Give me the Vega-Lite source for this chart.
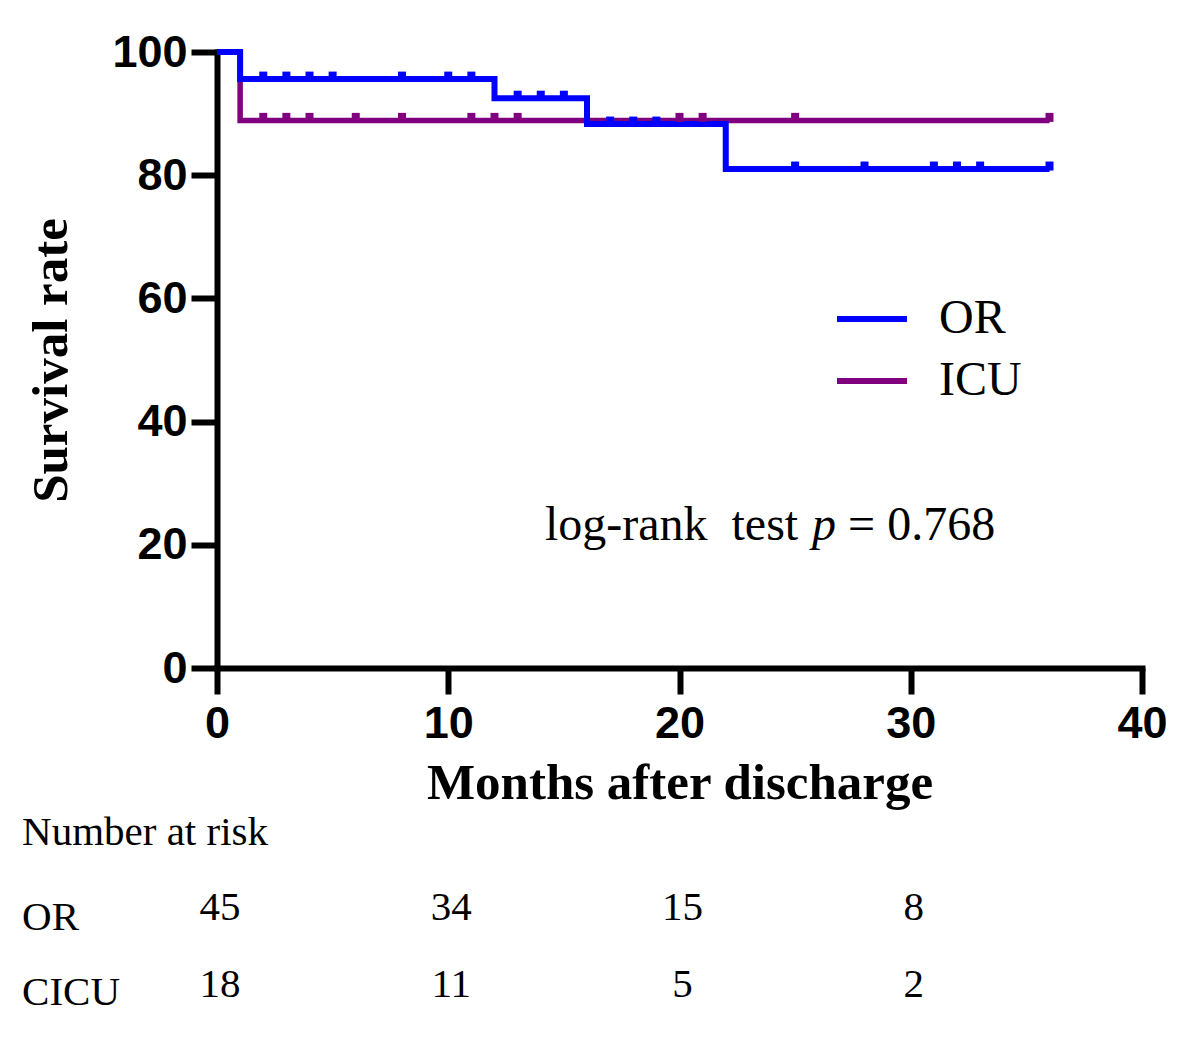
{
  "$schema": "https://vega.github.io/schema/vega-lite/v6.json",
  "width": 925,
  "height": 616,
  "autosize": {"type": "none"},
  "padding": {"left": 217, "top": 52, "right": 58, "bottom": 371},
  "background": "white",
  "config": {
    "view": {"stroke": null},
    "axis": {
      "grid": false,
      "labelFlush": false,
      "domainColor": "black",
      "domainWidth": 6,
      "domainCap": "square",
      "tickColor": "black",
      "tickWidth": 6,
      "tickSize": 26,
      "labelFont": "Liberation Sans",
      "labelFontWeight": "bold",
      "labelFontSize": 45,
      "labelColor": "black",
      "titleFont": "Liberation Serif",
      "titleFontWeight": "bold",
      "titleFontSize": 51,
      "titleColor": "black"
    }
  },
  "datasets": {
    "curve": [
      {"group": "OR", "month": 0, "rate": 100},
      {"group": "OR", "month": 1, "rate": 95.6},
      {"group": "OR", "month": 12, "rate": 92.5},
      {"group": "OR", "month": 16, "rate": 88.3},
      {"group": "OR", "month": 22, "rate": 81.0},
      {"group": "OR", "month": 36, "rate": 81.0},
      {"group": "ICU", "month": 0, "rate": 100},
      {"group": "ICU", "month": 1, "rate": 88.9},
      {"group": "ICU", "month": 36, "rate": 88.9}
    ],
    "censor": [
      {"group": "ICU", "month": 2, "rate": 88.9},
      {"group": "ICU", "month": 3, "rate": 88.9},
      {"group": "ICU", "month": 4, "rate": 88.9},
      {"group": "ICU", "month": 6, "rate": 88.9},
      {"group": "ICU", "month": 8, "rate": 88.9},
      {"group": "ICU", "month": 11, "rate": 88.9},
      {"group": "ICU", "month": 12, "rate": 88.9},
      {"group": "ICU", "month": 13, "rate": 88.9},
      {"group": "ICU", "month": 20, "rate": 88.9},
      {"group": "ICU", "month": 21, "rate": 88.9},
      {"group": "ICU", "month": 25, "rate": 88.9},
      {"group": "ICU", "month": 36, "rate": 88.9},
      {"group": "OR", "month": 2, "rate": 95.6},
      {"group": "OR", "month": 3, "rate": 95.6},
      {"group": "OR", "month": 4, "rate": 95.6},
      {"group": "OR", "month": 5, "rate": 95.6},
      {"group": "OR", "month": 8, "rate": 95.6},
      {"group": "OR", "month": 10, "rate": 95.6},
      {"group": "OR", "month": 11, "rate": 95.6},
      {"group": "OR", "month": 13, "rate": 92.5},
      {"group": "OR", "month": 14, "rate": 92.5},
      {"group": "OR", "month": 15, "rate": 92.5},
      {"group": "OR", "month": 17, "rate": 88.3},
      {"group": "OR", "month": 18, "rate": 88.3},
      {"group": "OR", "month": 19, "rate": 88.3},
      {"group": "OR", "month": 25, "rate": 81.0},
      {"group": "OR", "month": 28, "rate": 81.0},
      {"group": "OR", "month": 31, "rate": 81.0},
      {"group": "OR", "month": 32, "rate": 81.0},
      {"group": "OR", "month": 33, "rate": 81.0},
      {"group": "OR", "month": 36, "rate": 81.0}
    ],
    "risk": [
      {"group": "OR", "month": 0, "n": 45},
      {"group": "OR", "month": 10, "n": 34},
      {"group": "OR", "month": 20, "n": 15},
      {"group": "OR", "month": 30, "n": 8},
      {"group": "CICU", "month": 0, "n": 18},
      {"group": "CICU", "month": 10, "n": 11},
      {"group": "CICU", "month": 20, "n": 5},
      {"group": "CICU", "month": 30, "n": 2}
    ]
  },
  "layer": [
    {
      "data": {"name": "curve"},
      "transform": [{"filter": "datum.group === 'ICU'"}],
      "mark": {"type": "line", "interpolate": "step-after", "strokeWidth": 5.5},
      "encoding": {
        "x": {
          "field": "month", "type": "quantitative",
          "scale": {"domain": [0, 40], "nice": false},
          "axis": {"values": [0, 10, 20, 30, 40], "title": "Months after discharge", "labelPadding": 7, "titlePadding": 12}
        },
        "y": {
          "field": "rate", "type": "quantitative",
          "scale": {"domain": [0, 100], "nice": false},
          "axis": {"values": [0, 20, 40, 60, 80, 100], "title": "Survival rate", "labelPadding": 4, "titlePadding": 34}
        },
        "color": {
          "field": "group", "type": "nominal",
          "scale": {"domain": ["OR", "ICU"], "range": ["#0000FF", "#800080"]},
          "legend": {
            "title": null,
            "orient": "none",
            "legendX": 617,
            "legendY": 229,
            "padding": 0,
            "symbolType": "stroke",
            "symbolSize": 4900,
            "symbolStrokeWidth": 6,
            "labelFont": "Liberation Serif",
            "labelFontSize": 48,
            "labelColor": "black",
            "labelOffset": 29,
            "rowPadding": -5
          }
        }
      }
    },
    {
      "data": {"name": "curve"},
      "transform": [{"filter": "datum.group === 'OR'"}],
      "mark": {"type": "line", "interpolate": "step-after", "strokeWidth": 6},
      "encoding": {
        "x": {"field": "month", "type": "quantitative"},
        "y": {"field": "rate", "type": "quantitative"},
        "color": {"field": "group", "type": "nominal"}
      }
    },
    {
      "data": {"name": "censor"},
      "mark": {"type": "tick", "orient": "vertical", "thickness": 8, "size": 9, "yOffset": -3, "opacity": 1},
      "encoding": {
        "x": {"field": "month", "type": "quantitative"},
        "y": {"field": "rate", "type": "quantitative"},
        "color": {"field": "group", "type": "nominal"}
      }
    },
    {
      "data": {"values": [{}]},
      "mark": {"type": "text", "text": "log-rank\u00a0 test", "font": "Liberation Serif", "fontSize": 48, "align": "left", "baseline": "alphabetic", "color": "black"},
      "encoding": {"x": {"datum": 14.18}, "y": {"datum": 20.8}}
    },
    {
      "data": {"values": [{}]},
      "mark": {"type": "text", "text": "p", "font": "Liberation Serif", "fontStyle": "italic", "fontSize": 48, "align": "left", "baseline": "alphabetic", "color": "black"},
      "encoding": {"x": {"datum": 25.73}, "y": {"datum": 20.8}}
    },
    {
      "data": {"values": [{}]},
      "mark": {"type": "text", "text": "= 0.768", "font": "Liberation Serif", "fontSize": 48, "align": "left", "baseline": "alphabetic", "color": "black"},
      "encoding": {"x": {"datum": 27.29}, "y": {"datum": 20.8}}
    },
    {
      "data": {"values": [{}]},
      "mark": {"type": "text", "text": "Number at risk", "font": "Liberation Serif", "fontSize": 41, "align": "left", "baseline": "middle", "color": "black"},
      "encoding": {"x": {"datum": -8.43}, "y": {"datum": -26.8}}
    },
    {
      "data": {"values": [{}]},
      "mark": {"type": "text", "text": "OR", "font": "Liberation Serif", "fontSize": 41, "align": "left", "baseline": "middle", "color": "black"},
      "encoding": {"x": {"datum": -8.43}, "y": {"datum": -40.6}}
    },
    {
      "data": {"values": [{}]},
      "mark": {"type": "text", "text": "CICU", "font": "Liberation Serif", "fontSize": 41, "align": "left", "baseline": "middle", "color": "black"},
      "encoding": {"x": {"datum": -8.43}, "y": {"datum": -52.8}}
    },
    {
      "data": {"name": "risk"},
      "transform": [{"filter": "datum.group === 'OR'"}],
      "mark": {"type": "text", "font": "Liberation Serif", "fontSize": 41, "align": "center", "baseline": "middle", "color": "black", "dx": 3},
      "encoding": {
        "x": {"field": "month", "type": "quantitative"},
        "y": {"datum": -39.0},
        "text": {"field": "n", "type": "quantitative"}
      }
    },
    {
      "data": {"name": "risk"},
      "transform": [{"filter": "datum.group === 'CICU'"}],
      "mark": {"type": "text", "font": "Liberation Serif", "fontSize": 41, "align": "center", "baseline": "middle", "color": "black", "dx": 3},
      "encoding": {
        "x": {"field": "month", "type": "quantitative"},
        "y": {"datum": -51.5},
        "text": {"field": "n", "type": "quantitative"}
      }
    }
  ]
}
